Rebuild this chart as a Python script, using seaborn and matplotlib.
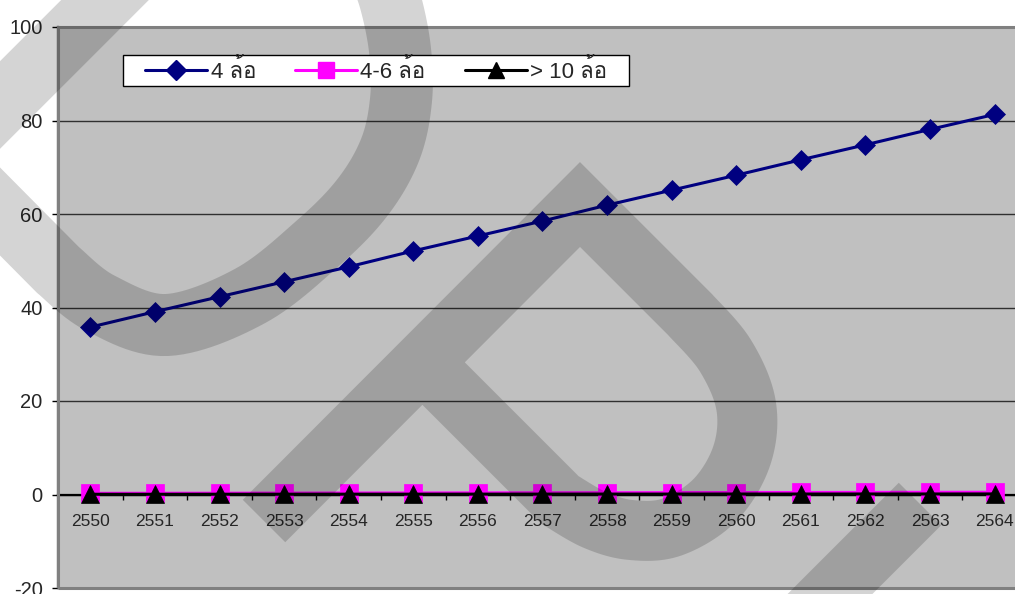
import numpy as np
import pandas as pd
import matplotlib
matplotlib.use("Agg")
import matplotlib.pyplot as plt
import seaborn as sns
from matplotlib import font_manager, transforms
from matplotlib.lines import Line2D
from matplotlib.patches import Rectangle, Polygon
from matplotlib.ft2font import FT2Font

# ---------------------------------------------------------------- data
years = ["2550", "2551", "2552", "2553", "2554", "2555", "2556", "2557",
         "2558", "2559", "2560", "2561", "2562", "2563", "2564"]
wheels_4 = [35.8, 39.1, 42.3, 45.5, 48.7, 52.1, 55.3, 58.5,
            61.9, 65.1, 68.3, 71.6, 74.8, 78.1, 81.3]
wheels_4_6 = [0.25, 0.27, 0.28, 0.30, 0.32, 0.33, 0.35, 0.37,
              0.38, 0.40, 0.42, 0.43, 0.45, 0.47, 0.48]
wheels_10 = [0.05, 0.05, 0.06, 0.06, 0.07, 0.07, 0.08, 0.08,
             0.09, 0.09, 0.10, 0.10, 0.11, 0.11, 0.12]
series_names = ["4 ล้อ", "4-6 ล้อ", "> 10 ล้อ"]
y_ticks = [-20, 0, 20, 40, 60, 80, 100]

# ---------------------------------------------------------------- fonts
def thai_family():
    preferred = ["Loma", "Garuda", "Tlwg Typo", "Norasi", "Kinnari", "Sawasdee",
                 "Noto Sans Thai", "Noto Sans Thai UI", "Noto Sans Thai Looped"]
    names = {f.name for f in font_manager.fontManager.ttflist}
    for name in preferred:
        if name in names:
            return name
    for f in font_manager.fontManager.ttflist:
        try:
            cmap = FT2Font(f.fname).get_charmap()
        except Exception:
            continue
        if 0x0E25 in cmap and 0x0E49 in cmap and 0x0E2D in cmap:
            return f.name
    return None

sns.set_style("white")
thai = thai_family()
families = ["Liberation Sans"] + ([thai] if thai else []) + ["DejaVu Sans"]
plt.rcParams["font.family"] = families

# ---------------------------------------------------------------- figure
W, H = 1015, 594
fig = plt.figure(figsize=(W / 100, H / 100), dpi=100, facecolor="white")
ax = fig.add_axes([58 / W, (H - 588) / H, (1027 - 58) / W, (588 - 27) / H])
ax.set_facecolor("#C0C0C0")

df = pd.DataFrame({"year": years, "v4": wheels_4, "v46": wheels_4_6, "v10": wheels_10})

styles = [
    dict(col="v46", color="#FF00FF", marker="s", ms=13, lw=2.2, z=3),
    dict(col="v10", color="black", marker="^", ms=13.5, lw=2.2, z=3.2),
    dict(col="v4", color="#000080", marker="D", ms=10.5, lw=2.2, z=3.4),
]
for s in styles:
    sns.lineplot(data=df, x="year", y=s["col"], ax=ax, color=s["color"],
                 marker=s["marker"], markersize=s["ms"], linewidth=s["lw"],
                 markeredgecolor=s["color"], markeredgewidth=0.5,
                 zorder=s["z"], legend=False, sort=False)

ax.set_xlim(-0.5, len(years) - 0.5)
ax.set_ylim(y_ticks[0], y_ticks[-1])
ax.set_xlabel("")
ax.set_ylabel("")

# y axis
ax.set_yticks(y_ticks)
ax.set_yticklabels([str(t) for t in y_ticks])
ax.tick_params(axis="y", direction="out", length=4, width=1, color="black",
               pad=7, labelsize=14.5, left=True)
ax.yaxis.grid(True, color="#303030", linewidth=1)
ax.set_axisbelow(True)

# category axis sits on zero
ax.spines["bottom"].set_position(("data", 0))
ax.spines["bottom"].set_color("black")
ax.spines["bottom"].set_linewidth(1.6)
ax.spines["left"].set_color("black")
ax.spines["left"].set_linewidth(1.6)
ax.spines["top"].set_visible(False)
ax.spines["right"].set_visible(False)
ax.set_xticks(np.arange(len(years)))
ax.set_xticklabels(years)
ax.set_xticks(np.arange(len(years) - 1) + 0.5, minor=True)
ax.tick_params(axis="x", which="major", length=0, pad=14, labelsize=12.5, bottom=True)
ax.tick_params(axis="x", which="minor", direction="out", length=3.6, width=1,
               color="black", bottom=True)

# plot-area border
ax.add_patch(Rectangle((0, 0), 1, 1, transform=ax.transAxes, fill=False,
                       edgecolor="#808080", linewidth=2.2, clip_on=False, zorder=2.6))

# ---------------------------------------------------------------- background logo
pix = transforms.Affine2D().scale(1 / W, -1 / H).translate(0, 1) + fig.transFigure


def smooth(pts, n=14):
    p = np.asarray(pts, float)
    p = np.vstack([p[0], p, p[-1]])
    out = []
    for i in range(1, len(p) - 2):
        p0, p1, p2, p3 = p[i - 1], p[i], p[i + 1], p[i + 2]
        for t in np.linspace(0, 1, n, endpoint=False):
            t2, t3 = t * t, t * t * t
            out.append(0.5 * (2 * p1 + (-p0 + p2) * t
                              + (2 * p0 - 5 * p1 + 4 * p2 - p3) * t2
                              + (-p0 + 3 * p1 - 3 * p2 + p3) * t3))
    out.append(p[-2])
    return np.array(out)


def band(pts, width):
    """Outline of a constant-width stroke along a polyline (mitred joins, butt ends)."""
    p = np.asarray(pts, float)
    keep = np.r_[True, np.linalg.norm(np.diff(p, axis=0), axis=1) > 1e-6]
    p = p[keep]
    d = np.diff(p, axis=0)
    d /= np.linalg.norm(d, axis=1)[:, None]
    nrm = np.column_stack([-d[:, 1], d[:, 0]])
    vn = np.empty_like(p)
    vn[0], vn[-1] = nrm[0], nrm[-1]
    for i in range(1, len(p) - 1):
        m = nrm[i - 1] + nrm[i]
        m /= np.linalg.norm(m)
        vn[i] = m / np.dot(m, nrm[i])
    half = width / 2
    return np.vstack([p + vn * half, (p - vn * half)[::-1]])


ring = np.vstack([
    [(230, -125), (-53, 158)],
    smooth([(58, 270), (100, 303), (167, 325), (250, 296), (317, 244),
            (362, 198), (390, 150), (401, 100), (400, 50), (390, 0), (375, -40)]),
])
bowl = np.vstack([
    [(264, 521), (580, 204.5)],
    smooth([(690, 314.5), (725, 355), (746, 405), (742, 455), (715, 500),
            (672, 527), (631, 530), (595, 520), (560, 500)]),
    [(426, 366)],
])
stroke = np.array([(780, 644), (920, 504)])

for path, wdt in ((ring, 62), (bowl, 60), (stroke, 60)):
    ax.add_patch(Polygon(band(path, wdt), closed=True, transform=pix,
                         facecolor="black", edgecolor="none", alpha=0.17,
                         clip_on=False, zorder=4))

# ---------------------------------------------------------------- legend
ax.add_patch(Rectangle((123 / W, 1 - 86 / H), (629 - 123) / W, 31 / H,
                       transform=fig.transFigure, facecolor="white",
                       edgecolor="black", linewidth=1, clip_on=False, zorder=4.5))
handles = [
    Line2D([], [], color="#000080", marker="D", markersize=10, linewidth=2.2),
    Line2D([], [], color="#FF00FF", marker="s", markersize=11, linewidth=2.2),
    Line2D([], [], color="black", marker="^", markersize=11.5, linewidth=2.2),
]
leg = ax.legend(handles, series_names, loc="center left",
                bbox_to_anchor=(145 / W, 1 - 71 / H), bbox_transform=fig.transFigure,
                ncol=3, frameon=False, fontsize=16, borderpad=0, borderaxespad=0,
                handlelength=2.8, handletextpad=0.15, columnspacing=1.75)
leg.set_zorder(5)

fig.savefig("out.png", dpi=100, facecolor="white")
